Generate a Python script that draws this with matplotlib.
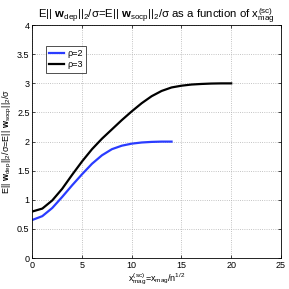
import matplotlib
matplotlib.use("Agg")
import matplotlib.pyplot as plt

plt.rcParams['font.family'] = ['Liberation Sans', 'DejaVu Sans']
plt.rcParams['mathtext.fontset'] = 'custom'
plt.rcParams['mathtext.rm'] = 'Liberation Sans'
plt.rcParams['mathtext.it'] = 'Liberation Sans'
plt.rcParams['mathtext.bf'] = 'Liberation Sans:bold'

x_rho2 = list(range(0, 15))
y_rho2 = [0.655, 0.72, 0.86, 1.05, 1.25, 1.44, 1.62, 1.765, 1.87, 1.93, 1.965, 1.985, 1.995, 2.0, 2.0]
x_rho3 = list(range(0, 21))
y_rho3 = [0.80, 0.85, 0.99, 1.19, 1.43, 1.66, 1.87, 2.05, 2.21, 2.37, 2.52, 2.66, 2.78, 2.87,
          2.93, 2.96, 2.98, 2.99, 2.997, 3.0, 3.0]
labels = ['ρ=2', 'ρ=3']
colors = ['#2a3cff', 'black']
xticks = [0, 5, 10, 15, 20, 25]
yticks = [0, 0.5, 1, 1.5, 2, 2.5, 3, 3.5, 4]
yticklabels = ['0', '0.5', '1', '1.5', '2', '2.5', '3', '3.5', '4']

fig = plt.figure(figsize=(2.89, 2.89), dpi=100)
ax = fig.add_axes([0.112, 0.107, 0.860, 0.806])
ax.plot(x_rho2, y_rho2, color=colors[0], lw=1.6, label=labels[0])
ax.plot(x_rho3, y_rho3, color=colors[1], lw=1.6, label=labels[1])
ax.set_xlim(0, 25)
ax.set_ylim(0, 4)
ax.set_xticks(xticks)
ax.set_xticklabels([str(t) for t in xticks])
ax.set_yticks(yticks)
ax.set_yticklabels(yticklabels)
ax.tick_params(direction='in', labelsize=6.5, length=2, width=0.5, pad=2, top=True, right=True)
ax.grid(True, linestyle=':', color='#b0b0b0', linewidth=0.6)
for s in ax.spines.values():
    s.set_linewidth(0.6)
ax.set_title(r'E|| $\mathbf{w}_{dep}$||$_2$/σ=E|| $\mathbf{w}_{socp}$||$_2$/σ as a function of $x_{mag}^{(sc)}$',
             fontsize=8.2, pad=4.5, x=0.5)
ax.set_xlabel(r'$x_{mag}^{(sc)}$=$x_{mag}$/n$^{1/2}$', fontsize=6.5, labelpad=1)
ax.set_ylabel(r'E|| $\mathbf{w}_{dep}$||$_2$/σ=E|| $\mathbf{w}_{socp}$||$_2$/σ', fontsize=6.5, labelpad=2)
leg = ax.legend(loc='upper left', fontsize=6.5, frameon=True, fancybox=False, edgecolor='black',
                handlelength=1.7, handletextpad=0.4, borderpad=0.35, labelspacing=0.25,
                bbox_to_anchor=(0.035, 0.93))
leg.get_frame().set_linewidth(0.6)
fig.savefig('out.png', dpi=100)
